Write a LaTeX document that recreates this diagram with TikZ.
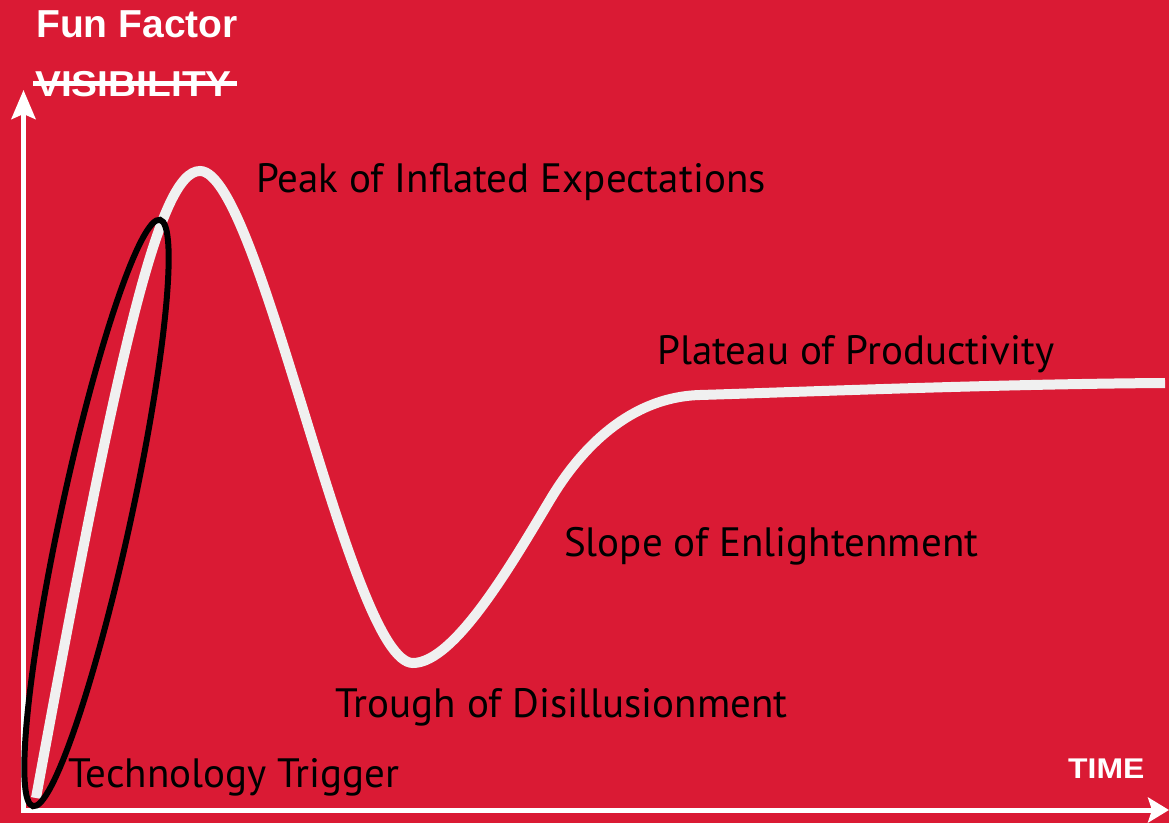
\documentclass[tikz,border=0pt]{standalone}
\usepackage{fontspec}
\setmainfont{PT Sans}
\newfontfamily\labelfont{PT Sans}
\newfontfamily\boldfont{Liberation Sans}[BoldFont={Liberation Sans Bold}]
\usetikzlibrary{arrows.meta}
\definecolor{bgred}{RGB}{218,26,52}
\definecolor{curvewhite}{RGB}{240,240,240}
\tikzset{
  lbl/.style={anchor=base west, inner sep=0pt, text=black,
    font=\labelfont\fontsize{41}{41}\selectfont},
  boldlbl/.style={anchor=base west, inner sep=0pt, text=white},
  axisline/.style={draw=white, line width=5pt},
  hype/.style={draw=curvewhite, line width=10pt},
  ring/.style={draw=black, line width=6pt}
}
\begin{document}
\begin{tikzpicture}[x=1pt,y=1pt]
\useasboundingbox (0,0) rectangle (1169,823);
\fill[bgred] (0,0) rectangle (1169,823);

% axes
\coordinate (origin) at (23.5,13);
\coordinate (ytip) at (23.5,733);
\coordinate (xleft) at (21,13);
\coordinate (xtip) at (1169,13);
\draw[axisline, -{Stealth[length=29pt,width=24pt,inset=5pt]}] (origin) -- (ytip);
\draw[axisline, -{Stealth[length=21pt,width=25pt,inset=4pt]}] (xleft) -- (xtip);

% hype curve
\coordinate (start) at (36,25);
\coordinate (pk) at (200,652);
\coordinate (tr) at (413,160);
\coordinate (mid) at (550,323);
\coordinate (pl) at (700,428);
\coordinate (end) at (1165,440);
\draw[hype] (start) .. controls (120,483) and (160,652) .. (pk)
  .. controls (260,652) and (350,160) .. (tr)
  .. controls (455,160) and (514,263) .. (mid)
  .. controls (580.6,374.6) and (630,426) .. (pl)
  .. controls (800,431) and (1000,439) .. (end);

% black ellipse
\draw[ring, rotate around={77.77:(96.5,310)}] (96.5,310) ellipse [x radius=300pt, y radius=35pt];

% labels
\node[lbl] (peak) at (256,630) {Peak of Inflated Expectations};
\node[lbl] (plateau) at (657,458) {Plateau of Productivity};
\node[lbl] (slope) at (564,267) {Slope of Enlightenment};
\node[lbl] (trough) at (335,106) {Trough of Disillusionment};
\node[lbl] (trigger) at (68,36) {Technology Trigger};

\node[boldlbl, font=\boldfont\bfseries\fontsize{39}{39}\selectfont] (fun) at (36,785) {Fun Factor};
\node[boldlbl, font=\boldfont\bfseries\fontsize{36}{36}\selectfont] (vis) at (35,726) {\scalebox{1.08}[1]{VISIBILITY}};
\draw[draw=white, line width=5pt] (33,739) -- (237,739);
\node[boldlbl, font=\boldfont\bfseries\fontsize{28.5}{28.5}\selectfont] (time) at (1068,45) {\scalebox{1.12}[1]{TIME}};
\end{tikzpicture}
\end{document}
